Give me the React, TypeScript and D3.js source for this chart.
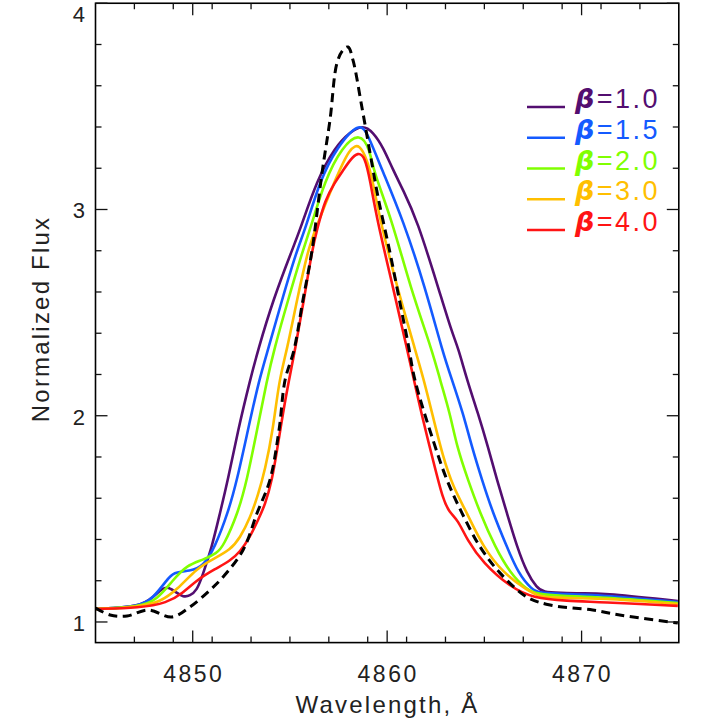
import React from "react";
import * as d3 from "d3";

type Pt = [number, number];

const observed: Pt[] = [
  [4845.0, 1.068], [4845.75, 1.034], [4846.62, 1.029], [4847.7, 1.058], [4848.93, 1.024],
  [4849.86, 1.073], [4850.89, 1.155], [4851.56, 1.218], [4852.59, 1.349], [4853.31, 1.528],
  [4853.97, 1.688], [4854.44, 1.931], [4854.75, 2.173], [4855.21, 2.319], [4855.67, 2.561],
  [4856.14, 2.804], [4856.65, 3.177], [4857.06, 3.434], [4857.42, 3.71], [4857.73, 3.773],
  [4857.99, 3.788], [4858.24, 3.725], [4858.7, 3.497], [4859.12, 3.274], [4859.53, 3.061],
  [4860.15, 2.789], [4860.66, 2.547], [4861.07, 2.353], [4861.43, 2.173], [4862.36, 1.882],
  [4863.08, 1.688], [4863.85, 1.528], [4864.78, 1.364], [4865.8, 1.238], [4867.19, 1.121],
  [4868.38, 1.082], [4870.57, 1.058], [4871.96, 1.034], [4874.95, 0.995],
];

const beta10: Pt[] = [
  [4845.0, 1.063], [4847.29, 1.073], [4847.96, 1.121], [4848.47, 1.165], [4848.73, 1.17],
  [4849.19, 1.141], [4849.5, 1.121], [4849.86, 1.126], [4850.22, 1.155], [4850.48, 1.218],
  [4850.99, 1.364], [4851.4, 1.528], [4851.81, 1.688], [4852.33, 1.931], [4852.95, 2.173],
  [4853.36, 2.319], [4854.13, 2.561], [4855.11, 2.804], [4855.52, 2.901], [4856.39, 3.143],
  [4857.32, 3.303], [4858.09, 3.376], [4858.76, 3.41], [4859.27, 3.376], [4859.79, 3.303],
  [4860.3, 3.192], [4860.82, 3.095], [4861.54, 2.949], [4862.62, 2.624], [4863.34, 2.401],
  [4863.64, 2.333], [4864.11, 2.173], [4864.67, 2.013], [4865.19, 1.848], [4865.65, 1.688],
  [4866.16, 1.528], [4866.68, 1.364], [4867.19, 1.238], [4867.71, 1.165], [4868.02, 1.145],
  [4868.9, 1.141], [4870.0, 1.138], [4870.93, 1.141], [4874.95, 1.102],
];

const beta15: Pt[] = [
  [4845.0, 1.063], [4847.29, 1.073], [4847.96, 1.116], [4848.68, 1.204], [4848.99, 1.242],
  [4849.86, 1.247], [4850.53, 1.267], [4851.15, 1.364], [4851.81, 1.528], [4852.28, 1.688],
  [4852.84, 1.931], [4853.41, 2.173], [4853.87, 2.319], [4854.59, 2.561], [4855.36, 2.804],
  [4855.78, 2.901], [4856.55, 3.143], [4857.42, 3.303], [4858.6, 3.429], [4859.02, 3.361],
  [4859.74, 3.192], [4860.82, 2.949], [4861.95, 2.624], [4862.87, 2.304], [4863.34, 2.173],
  [4863.9, 2.013], [4864.36, 1.848], [4864.88, 1.688], [4865.44, 1.528], [4866.16, 1.364],
  [4866.73, 1.238], [4867.45, 1.155], [4867.86, 1.141], [4868.9, 1.136], [4870.93, 1.131],
  [4874.95, 1.097],
];

const beta20: Pt[] = [
  [4845.0, 1.063], [4847.29, 1.073], [4848.16, 1.107], [4848.99, 1.204], [4849.71, 1.276],
  [4850.53, 1.301], [4851.25, 1.335], [4851.56, 1.364], [4852.33, 1.528], [4852.79, 1.688],
  [4853.31, 1.931], [4853.82, 2.173], [4854.18, 2.319], [4854.9, 2.561], [4855.67, 2.804],
  [4856.03, 2.901], [4856.8, 3.143], [4857.68, 3.303], [4858.6, 3.376], [4859.12, 3.289],
  [4859.27, 3.192], [4860.25, 2.949], [4861.18, 2.624], [4862.36, 2.304], [4862.72, 2.173],
  [4863.23, 2.013], [4863.59, 1.848], [4864.16, 1.688], [4864.78, 1.528], [4865.55, 1.364],
  [4866.32, 1.238], [4867.19, 1.155], [4867.71, 1.136], [4868.9, 1.126], [4870.93, 1.121],
  [4874.95, 1.092],
];

const beta30: Pt[] = [
  [4845.0, 1.063], [4847.29, 1.073], [4848.32, 1.097], [4849.19, 1.155], [4850.22, 1.262],
  [4851.15, 1.31], [4851.92, 1.349], [4852.43, 1.407], [4852.95, 1.504], [4853.36, 1.616],
  [4853.72, 1.737], [4854.13, 1.931], [4854.44, 2.173], [4854.85, 2.319], [4855.36, 2.561],
  [4855.93, 2.804], [4856.29, 2.901], [4857.32, 3.143], [4858.09, 3.303], [4858.6, 3.317],
  [4858.96, 3.24], [4859.22, 3.158], [4859.63, 2.949], [4860.51, 2.624], [4861.49, 2.304],
  [4861.89, 2.173], [4862.31, 2.013], [4862.87, 1.8], [4863.39, 1.655], [4864.11, 1.528],
  [4864.93, 1.364], [4865.96, 1.238], [4867.19, 1.155], [4867.86, 1.121], [4868.9, 1.116],
  [4870.93, 1.116], [4874.95, 1.087],
];

const beta40: Pt[] = [
  [4845.0, 1.063], [4847.29, 1.068], [4848.68, 1.092], [4849.5, 1.141], [4850.22, 1.204],
  [4851.15, 1.257], [4851.92, 1.296], [4852.43, 1.339], [4852.95, 1.412], [4853.36, 1.495],
  [4853.72, 1.567], [4854.08, 1.688], [4854.34, 1.834], [4854.64, 2.013], [4854.95, 2.173],
  [4855.26, 2.319], [4855.72, 2.561], [4856.14, 2.804], [4856.39, 2.901], [4856.8, 3.046],
  [4857.32, 3.133], [4857.68, 3.182], [4858.09, 3.24], [4858.5, 3.279], [4858.86, 3.255],
  [4859.12, 3.143], [4859.48, 2.949], [4860.3, 2.624], [4861.07, 2.304], [4861.38, 2.173],
  [4861.84, 1.979], [4862.36, 1.785], [4862.87, 1.592], [4863.23, 1.528], [4863.64, 1.495],
  [4864.11, 1.398], [4864.93, 1.286], [4866.32, 1.17], [4867.5, 1.116], [4869.25, 1.102],
  [4870.93, 1.097], [4874.95, 1.078],
];

const seriesLabels = ["1.0", "1.5", "2.0", "3.0", "4.0"];
const seriesData = [beta10, beta15, beta20, beta30, beta40];
const seriesColors = ["#530e70", "#145aff", "#80ff00", "#ffbf00", "#ff1414"];

const xMajorTicks = [4850, 4860, 4870];
const yMajorTicks = [1, 2, 3, 4];
const xLabel = "Wavelength, \u00c5";
const yLabel = "Normalized Flux";

const W = 705;
const H = 726;
const FONT = "'Liberation Sans', Arial, sans-serif";

export default function App() {
  const x = d3.scaleLinear().domain([4845, 4875]).range([95.5, 678.8]);
  const y = d3.scaleLinear().domain([0.9, 4.0]).range([642.6, 3.25]);
  const [x0, x1] = x.range();
  const [y0, y1] = y.range();

  const model = d3
    .line<Pt>()
    .x((d) => x(d[0]))
    .y((d) => y(d[1]))
    .curve(d3.curveBasis);
  const obs = d3
    .line<Pt>()
    .x((d) => x(d[0]))
    .y((d) => y(d[1]))
    .curve(d3.curveCatmullRom.alpha(0.5));

  const xMinorTicks = d3.range(4847, 4875, 2).filter((v) => !xMajorTicks.includes(v));
  const yMinorTicks = d3
    .range(0, 16)
    .map((i) => +(1 + i * 0.2).toFixed(2))
    .filter((v) => v < 4.0 && !yMajorTicks.includes(v));

  const major = 12;
  const minor = 6;
  const tickColor = "#111";

  const legendX0 = 527;
  const legendX1 = 565;
  const legendY0 = 107;
  const legendDy = 30.75;

  return (
    <svg
      width={W}
      height={H}
      style={{ position: "absolute", left: 0, top: 0, background: "#fff" }}
      fontFamily={FONT}
    >
      <defs>
        <clipPath id="plot">
          <rect x={x0} y={y1} width={x1 - x0} height={y0 - y1} />
        </clipPath>
      </defs>
      <rect x={0} y={0} width={W} height={H} fill="#fff" />

      <g clipPath="url(#plot)" fill="none">
        {seriesData.map((d, i) => (
          <path key={i} d={model(d) || ""} stroke={seriesColors[i]} strokeWidth={2.6} strokeLinejoin="round" />
        ))}
        <path d={obs(observed) || ""} stroke="#000" strokeWidth={3} strokeDasharray="9,5.5" />
      </g>

      <rect x={x0} y={y1} width={x1 - x0} height={y0 - y1} fill="none" stroke="#000" strokeWidth={1.6} />

      {xMajorTicks.map((v) => (
        <g key={"xm" + v} stroke={tickColor} strokeWidth={1.3}>
          <line x1={x(v)} x2={x(v)} y1={y0} y2={y0 - major} />
          <line x1={x(v)} x2={x(v)} y1={y1} y2={y1 + major} />
        </g>
      ))}
      {xMinorTicks.map((v) => (
        <g key={"xn" + v} stroke={tickColor} strokeWidth={1.3}>
          <line x1={x(v)} x2={x(v)} y1={y0} y2={y0 - minor} />
          <line x1={x(v)} x2={x(v)} y1={y1} y2={y1 + minor} />
        </g>
      ))}
      {yMajorTicks.map((v) => (
        <g key={"ym" + v} stroke={tickColor} strokeWidth={1.3}>
          <line x1={x0} x2={x0 + major} y1={y(v)} y2={y(v)} />
          <line x1={x1} x2={x1 - major} y1={y(v)} y2={y(v)} />
        </g>
      ))}
      {yMinorTicks.map((v) => (
        <g key={"yn" + v} stroke={tickColor} strokeWidth={1.3}>
          <line x1={x0} x2={x0 + minor} y1={y(v)} y2={y(v)} />
          <line x1={x1} x2={x1 - minor} y1={y(v)} y2={y(v)} />
        </g>
      ))}

      {xMajorTicks.map((v) => (
        <text key={"xl" + v} x={x(v) + 1} y={y0 + 39} textAnchor="middle" fontSize={23} fill="#222" letterSpacing={2.5}>
          {d3.format("d")(v)}
        </text>
      ))}
      {yMajorTicks.map((v) => (
        <text key={"yl" + v} x={85} y={Math.max(y(v) + 9, 22)} textAnchor="end" fontSize={22} fill="#222">
          {d3.format("d")(v)}
        </text>
      ))}

      <text x={387.5} y={713} textAnchor="middle" fontSize={24} fill="#222" letterSpacing={2.2}>
        {xLabel}
      </text>
      <text transform={`translate(49,319) rotate(-90)`} textAnchor="middle" fontSize={24} fill="#222" letterSpacing={2.2}>
        {yLabel}
      </text>

      {seriesLabels.map((lab, i) => {
        const ly = legendY0 + i * legendDy;
        return (
          <g key={"lg" + i}>
            <line x1={legendX0} x2={legendX1} y1={ly} y2={ly} stroke={seriesColors[i]} strokeWidth={2.6} />
            <text x={575} y={ly + 1} fontSize={27} fill={seriesColors[i]} letterSpacing={2.5}>
              <tspan fontStyle="italic" fontWeight={600} fontFamily="'DejaVu Sans', sans-serif">
                {"\u03b2"}
              </tspan>
              <tspan>{"=" + lab}</tspan>
            </text>
          </g>
        );
      })}
    </svg>
  );
}
